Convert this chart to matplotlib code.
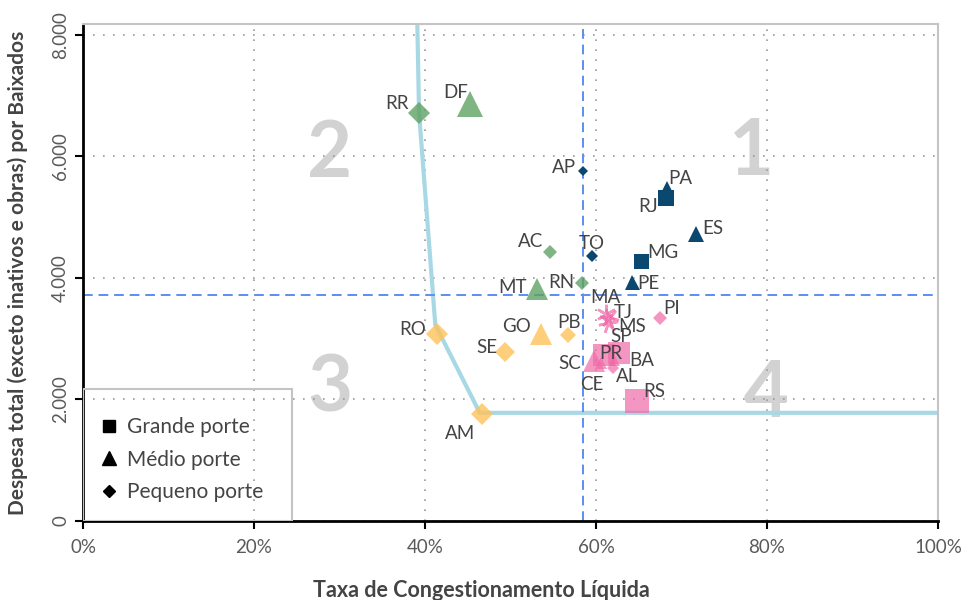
import matplotlib
matplotlib.use('Agg')
import matplotlib.pyplot as plt
from matplotlib.lines import Line2D
from matplotlib.patches import Rectangle
from matplotlib.ticker import FuncFormatter

plt.rcParams['font.family'] = ['Lato', 'DejaVu Sans']

# ── Dados ──────────────────────────────────────────────────────────────
SIGLAS = ['AP', 'PA', 'RJ', 'ES', 'MG', 'TO', 'PE',
          'RR', 'DF', 'AC', 'RN', 'MT',
          'RO', 'SE', 'GO', 'PB', 'AM',
          'MA', 'TJ', 'MS', 'PI', 'PR', 'SP', 'SC', 'CE', 'BA', 'AL', 'RS']
TAXA = [58.5, 68.3, 68.2, 71.7, 65.3, 59.5, 64.2,
        39.3, 45.3, 54.6, 58.4, 53.1,
        41.4, 49.4, 53.6, 56.7, 46.7,
        61.2, 61.5, 61.4, 67.5, 60.9, 62.7, 59.8, 60.6, 62.1, 62.0, 64.8]
DESPESA = [5760, 5480, 5320, 4720, 4280, 4360, 3930,
           6720, 6860, 4430, 3920, 3820,
           3080, 2780, 3080, 3060, 1760,
           3410, 3340, 3260, 3340, 2730, 2770, 2630, 2600, 2650, 2520, 1980]
GRUPO = [1] * 7 + [2] * 5 + [3] * 5 + [4] * 11
PORTE = ['P', 'M', 'G', 'M', 'G', 'P', 'M',
         'P', 'M', 'P', 'P', 'M',
         'P', 'P', 'M', 'P', 'P',
         'X', 'X', 'X', 'P', 'G', 'G', 'M', 'M', 'M', 'P', 'G']

FRONTEIRA_X = [39.1, 39.3, 41.2, 46.4, 100]
FRONTEIRA_Y = [8180, 6720, 3230, 1780, 1780]
MEDIANA_X = 58.5
MEDIANA_Y = 3720

# ── Estilo ─────────────────────────────────────────────────────────────
CORES = {1: ('#0b4870', 1.0), 2: ('#5fa164', 0.8), 3: ('#ffc25a', 0.8), 4: ('#f06aa8', 0.7)}
MARCADORES = {'G': 's', 'M': '^', 'P': 'D'}
TAM = [5.1, 10, 11.5, 11.3, 10.8, 6, 10.8,
       11.2, 18.7, 7, 7, 16.5,
       11.2, 9.7, 16.3, 7.8, 11.2,
       14, 14, 14, 6.8, 16, 16, 15.6, 9, 8, 6, 17.3]
ESTRELA_ROT = {'MA': 0, 'TJ': 20, 'MS': 40}
# deslocamento dos rótulos (pontos)
ROTULO = {
    'AP': (-13.7, 2.9), 'PA': (9.4, 7.2), 'RJ': (-13, -6.5), 'ES': (12.2, 4.3),
    'MG': (15.8, 5.8), 'TO': (0, 9.4), 'PE': (11.5, -0.7), 'RR': (-15.8, 6.5),
    'DF': (-10.8, 8.6), 'AC': (-13.7, 7.2), 'RN': (-15, 0), 'MT': (-18, 0.7),
    'RO': (-17.3, 2.9), 'SE': (-13, 3.6), 'GO': (-18, 5), 'PB': (0.7, 9.4),
    'AM': (-15.8, -13.7), 'MA': (-0.7, 11.5), 'TJ': (10, 4.3), 'MS': (17.3, -2.9),
    'PI': (8.6, 7.2), 'PR': (5, 1.4), 'SP': (1.4, 11.5), 'SC': (-18, -1.4),
    'CE': (-6.5, -15.8), 'BA': (20, -0.7), 'AL': (10, -6.5), 'RS': (12.2, 6.5),
}
TXT = '#444444'
YMAX = 8180

fig = plt.figure(figsize=(9.63, 6.0), dpi=100)
ax = fig.add_axes([0.0862, 0.1317, 0.8879, 0.8283])

ax.set_xlim(0, 100)
ax.set_ylim(0, YMAX)
ax.set_axisbelow(True)
ax.grid(True, color='#9a9a9a', linestyle=(0, (1, 5)), linewidth=1.2)

# números dos quadrantes
for txt, (qx, qy) in {'2': (28.9, 6030), '1': (78.2, 6060),
                      '3': (28.9, 2160), '4': (79.9, 2080)}.items():
    ax.text(qx, qy, txt, fontsize=56, fontweight='bold', color='#d2d2d2',
            ha='center', va='center', zorder=0.2)

# fronteira e medianas
ax.plot(FRONTEIRA_X, FRONTEIRA_Y, color='#a9d8e5', linewidth=3, zorder=2,
        solid_joinstyle='miter')
ax.axvline(MEDIANA_X, color='#5b8ff0', linestyle=(0, (5, 3)), linewidth=1.4, zorder=2)
ax.axhline(MEDIANA_Y, color='#5b8ff0', linestyle=(0, (5, 3)), linewidth=1.4, zorder=2)

# pontos
for i, sg in enumerate(SIGLAS):
    cor, alpha = CORES[GRUPO[i]]
    if PORTE[i] == 'X':
        ax.plot(TAXA[i], DESPESA[i], marker=(6, 2, ESTRELA_ROT[sg]), markersize=TAM[i],
                color=cor, alpha=alpha, markeredgewidth=1.8, linestyle='none', zorder=3)
    else:
        ax.plot(TAXA[i], DESPESA[i], marker=MARCADORES[PORTE[i]], markersize=TAM[i],
                color=cor, alpha=alpha, markeredgewidth=0, linestyle='none', zorder=3)
    dx, dy = ROTULO[sg]
    ax.annotate(sg, (TAXA[i], DESPESA[i]), xytext=(dx, dy), textcoords='offset points',
                ha='center', va='center', fontsize=13.5, color=TXT, zorder=4)

# eixos
for s in ['top', 'right']:
    ax.spines[s].set_color('#c4c4c4')
    ax.spines[s].set_linewidth(1.5)
for s in ['bottom', 'left']:
    ax.spines[s].set_color('black')
    ax.spines[s].set_linewidth(2)

ax.set_xticks([0, 20, 40, 60, 80, 100])
ax.set_yticks([0, 2000, 4000, 6000, 8000])
ax.xaxis.set_major_formatter(FuncFormatter(lambda v, p: f'{v:.0f}%'))
ax.yaxis.set_major_formatter(FuncFormatter(lambda v, p: f'{v:,.0f}'.replace(',', '.')))
ax.tick_params(axis='both', length=6, width=1.5, color='black', labelsize=13.5,
               labelcolor='#5a5a5a')
ax.tick_params(axis='x', pad=7)
ax.tick_params(axis='y', pad=4)
for lb in ax.get_yticklabels():
    lb.set_rotation(90)
    lb.set_va('center')

ax.set_xlabel('Taxa de Congestionamento Líquida', fontsize=15.5, fontweight='bold',
              color=TXT, va='center')
ax.xaxis.set_label_coords(0.466, -0.139)
ax.set_ylabel('Despesa total (exceto inativos e obras) por Baixados', fontsize=15,
              fontweight='bold', color=TXT, va='center')
ax.yaxis.set_label_coords(-0.076, 0.5)

# legenda
ax.add_patch(Rectangle((0, 0), 0.244, 0.266, transform=ax.transAxes, fill=False,
                       edgecolor='#c4c4c4', linewidth=1.5, zorder=5))
handles = [Line2D([], [], marker='s', color='black', linestyle='none', markersize=8.5,
                  label='Grande porte'),
           Line2D([], [], marker='^', color='black', linestyle='none', markersize=9.5,
                  label='Médio porte'),
           Line2D([], [], marker='D', color='black', linestyle='none', markersize=6,
                  label='Pequeno porte')]
leg = ax.legend(handles=handles, loc='lower left', bbox_to_anchor=(0.0, 0.0),
                frameon=False, fontsize=15, handlelength=0.7, handletextpad=0.5,
                labelspacing=0.6)
for t in leg.get_texts():
    t.set_color(TXT)

fig.savefig('out.png', dpi=100, facecolor='white')
